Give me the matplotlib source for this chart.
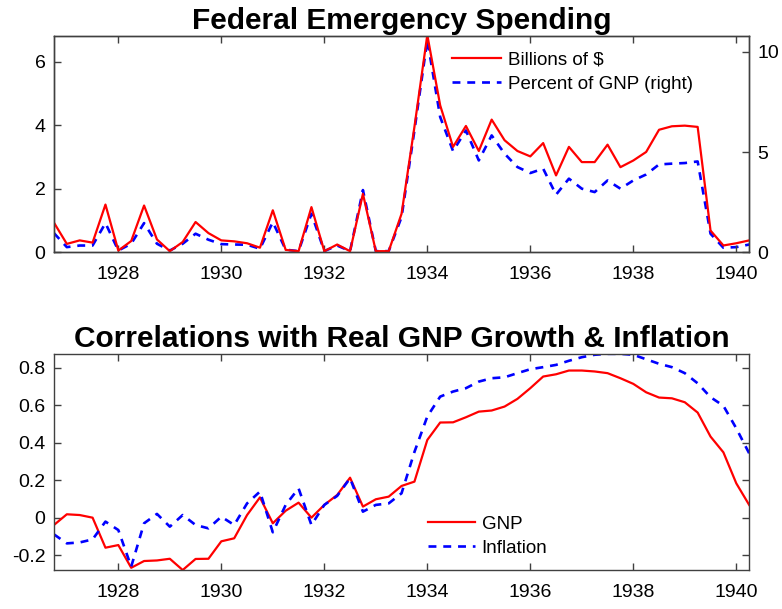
import numpy as np
import matplotlib
matplotlib.use('Agg')
import matplotlib.pyplot as plt

plt.rcParams['font.family'] = ['Liberation Sans', 'DejaVu Sans']

# quarterly dates, 1926Q4 .. 1940Q2
years = np.arange(1926.75, 1940.26, 0.25)

# top panel: emergency spending
billions = [0.93, 0.26, 0.37, 0.30, 1.50, 0.05, 0.35, 1.47, 0.40, 0.03,
            0.32, 0.95, 0.60, 0.37, 0.34, 0.28, 0.14, 1.32, 0.07, 0.03,
            1.42, 0.03, 0.24, 0.03, 1.84, 0.03, 0.03, 1.21, 3.95, 6.85,
            4.63, 3.32, 3.98, 3.19, 4.18, 3.53, 3.19, 3.02, 3.44, 2.42,
            3.32, 2.84, 2.84, 3.39, 2.68, 2.89, 3.16, 3.86, 3.97, 3.99,
            3.95, 0.68, 0.21, 0.28, 0.37]
pct_gnp = [0.95, 0.25, 0.33, 0.33, 1.45, 0.08, 0.42, 1.45, 0.42, 0.08,
           0.42, 0.92, 0.62, 0.40, 0.38, 0.37, 0.17, 1.50, 0.12, 0.05,
           1.92, 0.05, 0.33, 0.05, 3.10, 0.05, 0.05, 1.75, 6.08, 10.6,
           6.75, 5.05, 6.08, 4.58, 5.83, 4.92, 4.25, 3.95, 4.17, 2.87,
           3.67, 3.17, 3.00, 3.58, 3.17, 3.58, 3.88, 4.38, 4.42, 4.45,
           4.53, 0.92, 0.22, 0.25, 0.38]

# bottom panel: correlations
corr_gnp = [-0.039, 0.018, 0.014, 0.000, -0.160, -0.146, -0.267, -0.231, -0.228, -0.219,
            -0.279, -0.220, -0.219, -0.126, -0.110, 0.014, 0.108, -0.030, 0.037, 0.080,
            0.000, 0.068, 0.121, 0.213, 0.059, 0.098, 0.112, 0.169, 0.192, 0.414,
            0.507, 0.508, 0.535, 0.565, 0.571, 0.592, 0.633, 0.690, 0.752, 0.764,
            0.784, 0.784, 0.779, 0.770, 0.743, 0.713, 0.668, 0.640, 0.636, 0.615,
            0.560, 0.432, 0.348, 0.183, 0.068]
corr_infl = [-0.089, -0.137, -0.132, -0.116, -0.021, -0.066, -0.261, -0.030, 0.020, -0.048,
             0.014, -0.039, -0.057, 0.005, -0.039, 0.076, 0.139, -0.078, 0.068, 0.156,
             -0.039, 0.068, 0.116, 0.210, 0.032, 0.068, 0.076, 0.130, 0.350, 0.539,
             0.645, 0.672, 0.690, 0.725, 0.743, 0.748, 0.770, 0.791, 0.802, 0.814,
             0.836, 0.855, 0.868, 0.873, 0.873, 0.868, 0.844, 0.820, 0.802, 0.770,
             0.716, 0.642, 0.596, 0.476, 0.343]

xticks = [1928, 1930, 1932, 1934, 1936, 1938, 1940]
spine_col = '#404040'


def style(ax):
    for s in ax.spines.values():
        s.set_color(spine_col)
        s.set_linewidth(1.0)
    ax.tick_params(direction='in', length=5, width=1.0, color=spine_col,
                   labelsize=14, top=True, pad=6)
    ax.tick_params(axis='x', pad=10)
    ax.set_xticks(xticks)
    ax.set_xlim(years[0], years[-1])


fig = plt.figure(figsize=(7.82, 6.09), dpi=100)
ax1 = fig.add_axes([0.069, 0.586, 0.889, 0.355])
ax2 = fig.add_axes([0.069, 0.064, 0.889, 0.355])

l1, = ax1.plot(years, billions, color='red', lw=1.6, label='Billions of $')
ax1r = ax1.twinx()
l2, = ax1r.plot(years, pct_gnp, color='blue', lw=1.9, ls=(0, (3, 2.6)),
                label='Percent of GNP (right)')
ax1.set_ylim(0, 6.82)
ax1.set_yticks([0, 2, 4, 6])
ax1r.set_ylim(0, 10.8)
ax1r.set_yticks([0, 5, 10])
style(ax1)
style(ax1r)
ax1.set_zorder(ax1r.get_zorder() + 1)
ax1.patch.set_visible(False)
ax1.set_title('Federal Emergency Spending', fontsize=21.5, fontweight='bold', pad=5)
ax1.legend([l1, l2], ['Billions of $', 'Percent of GNP (right)'], frameon=False,
           fontsize=13.5, loc='upper left', bbox_to_anchor=(0.549, 1.005),
           handlelength=2.6, handletextpad=0.35, labelspacing=0.36)

ax2.plot(years, corr_gnp, color='red', lw=1.6, label='GNP')
ax2.plot(years, corr_infl, color='blue', lw=1.9, ls=(0, (3, 2.6)), label='Inflation')
ax2.set_ylim(-0.279, 0.873)
ax2.set_yticks([-0.2, 0, 0.2, 0.4, 0.6, 0.8])
ax2.set_yticklabels(['-0.2', '0', '0.2', '0.4', '0.6', '0.8'])
style(ax2)
ax2.tick_params(right=True)
ax2.set_title('Correlations with Real GNP Growth & Inflation', fontsize=21.5,
              fontweight='bold', pad=5)
ax2.legend(frameon=False, fontsize=13.5, loc='upper left', bbox_to_anchor=(0.514, 0.33),
           handlelength=2.5, handletextpad=0.35, labelspacing=0.36)

fig.savefig('out.png', dpi=100)
